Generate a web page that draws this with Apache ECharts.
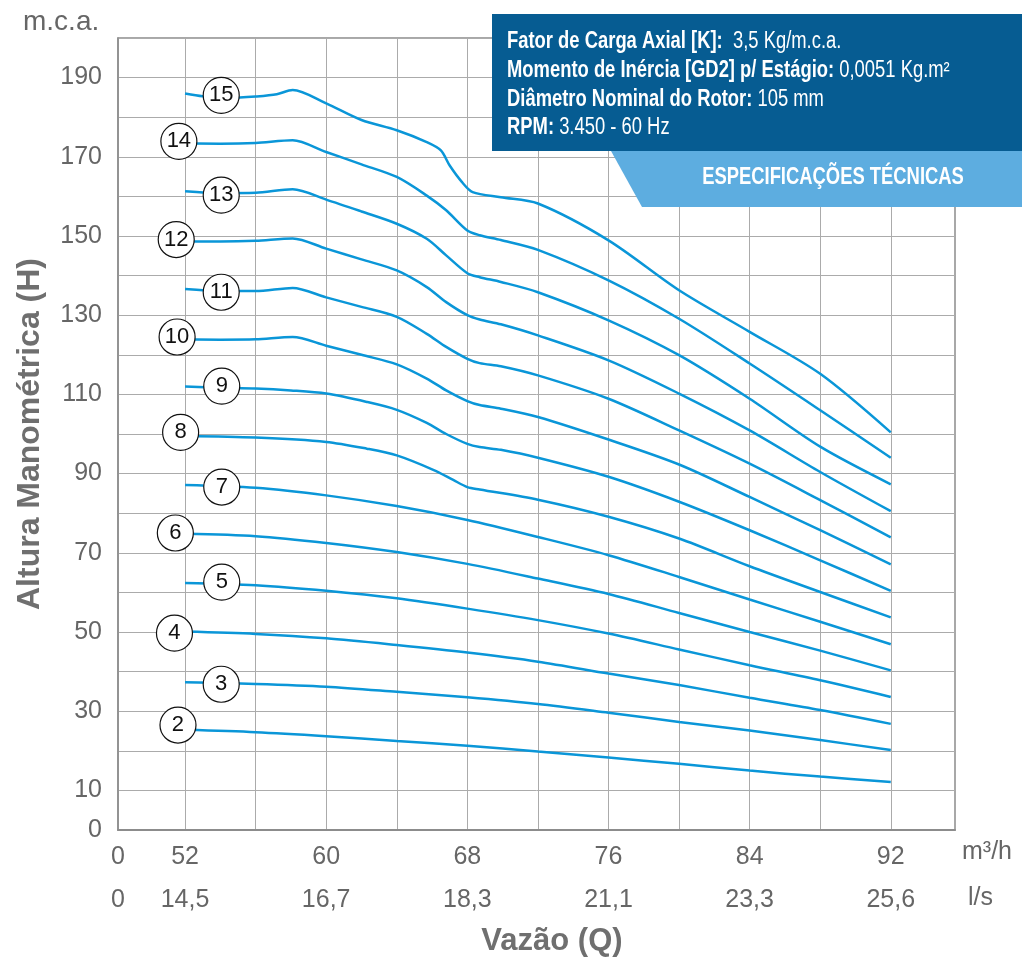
<!DOCTYPE html>
<html><head><meta charset="utf-8">
<script src="https://cdn.jsdelivr.net/npm/echarts@6/dist/echarts.min.js"></script>
<style>html,body{margin:0;padding:0;background:#fff}#c{width:1022px;height:958px}</style>
</head><body><div id="c"></div>
<script>
// ---- axis ticks / labels ----
const qTicks = [52, 56, 60, 64, 68, 72, 76, 80, 84, 88, 92];
const qLabelValues = [48.2, 52, 60, 68, 76, 84, 92];
const qLabelsM3h = ['0', '52', '60', '68', '76', '84', '92'];
const qLabelsLs = ['0', '14,5', '16,7', '18,3', '21,1', '23,3', '25,6'];

// ---- curves (Q in m3/h, H in m.c.a.) ----
const q15 = [52, 53, 54, 55.1, 56, 57.2, 58.1, 60, 62, 64, 65.7, 66.5, 67.0, 67.7, 68.3, 69.9, 72, 76, 80, 84, 88, 92];
const h15 = [186.0, 185.3, 185.0, 185.0, 185.2, 185.8, 186.9, 183.5, 179.3, 176.7, 173.7, 171.6, 167.8, 163.6, 161.1, 159.8, 158.2, 148.9, 136.3, 125.8, 115.2, 100.4];

const qUpper = [52, 54, 56, 58.1, 60, 62, 64, 65.7, 66.8, 68, 68.7, 69.9, 72, 76, 80, 84, 88, 92];
const h14 = [173.4, 173.3, 173.5, 174.2, 171.2, 168.1, 164.9, 160.2, 156.5, 151.4, 150.2, 149.0, 146.5, 138.8, 129.1, 117.8, 106.0, 94.0];
const h13 = [161.3, 160.8, 160.9, 161.8, 159.2, 156.2, 153.1, 149.3, 145.1, 140.6, 139.6, 138.4, 135.8, 128.7, 119.9, 108.9, 96.8, 87.3];
const h12 = [148.7, 148.6, 148.8, 149.4, 146.8, 144.1, 141.3, 137.1, 133.3, 130.0, 128.9, 127.7, 124.9, 118.6, 110.2, 100.9, 90.4, 80.5];
const h11 = [136.6, 136.1, 136.1, 136.9, 134.5, 132.1, 129.6, 125.3, 122.0, 119.0, 117.9, 117.1, 114.8, 108.9, 100.9, 92.5, 83.3, 73.9];
const h10 = [123.9, 123.8, 123.9, 124.5, 122.3, 120.0, 117.6, 114.0, 111.0, 108.3, 107.3, 106.4, 104.3, 98.6, 92.3, 84.1, 75.7, 67.1];

const q9 = [52, 54, 56, 58, 60, 62.3, 64, 65.7, 66.8, 68, 68.7, 69.9, 72, 76, 80, 84, 88, 92];
const h9 = [112.0, 111.7, 111.5, 111.0, 110.2, 108.1, 106.1, 102.8, 100.0, 97.5, 96.7, 96.0, 94.0, 89.2, 82.9, 75.7, 68.1, 60.4];

const q8 = [52, 56, 60, 62.3, 64, 66.1, 67.2, 68, 68.7, 72, 76, 80, 84, 88, 92];
const h8 = [99.5, 99.1, 98.0, 96.3, 94.6, 90.9, 88.4, 86.6, 86.0, 83.4, 79.1, 73.6, 66.6, 60.1, 53.7];

const qLower = [52, 56, 60, 64, 68, 72, 76, 80, 84, 88, 92];
const h7 = [87.1, 86.4, 84.5, 81.8, 78.3, 74.0, 69.4, 63.9, 58.2, 52.6, 46.9];
const h6 = [74.8, 74.2, 72.5, 70.2, 67.2, 63.5, 59.6, 54.8, 50.0, 45.3, 40.3];
const h5 = [62.4, 61.8, 60.4, 58.5, 55.9, 53.0, 49.6, 45.6, 41.6, 37.8, 33.6];
const h4 = [50.1, 49.5, 48.4, 46.7, 44.8, 42.5, 39.5, 36.6, 33.4, 30.3, 26.8];
const h3 = [37.3, 36.9, 36.2, 34.9, 33.5, 31.8, 29.6, 27.3, 25.1, 22.7, 20.2];
const h2 = [25.3, 24.7, 23.7, 22.5, 21.3, 19.8, 18.3, 16.7, 15.0, 13.5, 12.1];

// ---- stage markers (circled numbers) ----
const labelStage = [15, 14, 13, 12, 11, 10, 9, 8, 7, 6, 5, 4, 3, 2];
const labelQ = [54.05, 51.65, 54.05, 51.5, 54.05, 51.55, 54.08, 51.75, 54.08, 51.45, 54.08, 51.4, 54.05, 51.6];
const labelH = [185.5, 173.9, 160.3, 149.1, 135.8, 124.5, 112.1, 100.4, 86.6, 75.0, 62.6, 49.7, 36.8, 26.5];

// ---- spec box texts ----
const specLines = [
  ['Fator de Carga Axial [K]:', '  3,5 Kg/m.c.a.'],
  ['Momento de Inércia [GD2] p/ Estágio:', ' 0,0051 Kg.m²'],
  ['Diâmetro Nominal do Rotor:', ' 105 mm'],
  ['RPM:', ' 3.450 - 60 Hz']
];
const specTitle = 'ESPECIFICAÇÕES TÉCNICAS';

// ---- build ----
const curves = [
  [15, q15, h15], [14, qUpper, h14], [13, qUpper, h13], [12, qUpper, h12], [11, qUpper, h11], [10, qUpper, h10],
  [9, q9, h9], [8, q8, h8], [7, qLower, h7], [6, qLower, h6], [5, qLower, h5], [4, qLower, h4], [3, qLower, h3], [2, qLower, h2]
];
const FONT = '"Liberation Sans", Arial, sans-serif';
const LINE = '#0a96d8';

const series = curves.map(([st, qs, hs]) => ({
  name: 'Estágios ' + st, type: 'line', smooth: 0.3, symbol: 'none', z: 3,
  lineStyle: { color: LINE, width: 2.5 },
  data: qs.map((q, i) => [q, hs[i]])
}));
series.push({
  type: 'scatter', z: 10, symbol: 'circle', symbolSize: 36,
  itemStyle: { color: '#fff', borderColor: '#111', borderWidth: 1.2, opacity: 1 },
  label: { show: true, position: 'inside', formatter: p => String(p.data[2]), fontSize: 22, color: '#111', fontFamily: FONT },
  data: labelStage.map((s, i) => [labelQ[i], labelH[i], s])
});

const specGraphics = specLines.map((ln, i) => ({
  type: 'text', z: 61, x: 507, y: 42 + i * 28.6, scaleX: 0.8,
  style: {
    x: 0, y: 0, text: '{b|' + ln[0] + '}{r|' + ln[1] + '}', textVerticalAlign: 'middle',
    rich: {
      b: { fontWeight: 'bold', fontSize: 23, fontFamily: FONT, fill: '#fff' },
      r: { fontSize: 23, fontFamily: FONT, fill: '#fff' }
    }
  }
}));

const chart = echarts.init(document.getElementById('c'), null, { renderer: 'canvas' });
chart.setOption({
  animation: false,
  backgroundColor: '#fff',
  grid: { left: 118, right: 67, top: 38, bottom: 128, show: true, borderColor: '#8c8c8c', borderWidth: 1.5, containLabel: false, outerBoundsMode: 'none' },
  xAxis: [{
    type: 'value', min: 48.2, max: 95.64, position: 'bottom',
    axisLine: { show: true, onZero: false, lineStyle: { color: '#8c8c8c', width: 2 } },
    axisTick: { show: false, customValues: qTicks },
    splitLine: { show: true, lineStyle: { color: '#ababab', width: 1 } },
    axisLabel: {
      customValues: qLabelValues, margin: 15, fontSize: 25, color: '#666', fontFamily: FONT,
      formatter: v => qLabelsM3h[qLabelValues.findIndex(x => Math.abs(x - v) < 0.01)] || ''
    }
  }, {
    type: 'value', min: 48.2, max: 95.64, position: 'bottom', offset: 43,
    axisLine: { show: false }, axisTick: { show: false, customValues: qTicks }, splitLine: { show: false },
    axisLabel: {
      customValues: qLabelValues, margin: 15, fontSize: 25, color: '#666', fontFamily: FONT,
      formatter: v => qLabelsLs[qLabelValues.findIndex(x => Math.abs(x - v) < 0.01)] || ''
    }
  }],
  yAxis: {
    type: 'value', min: 0, max: 200, interval: 10,
    name: 'Altura Manométrica (H)', nameLocation: 'middle', nameGap: 72, nameRotate: 90,
    nameTextStyle: { fontSize: 32, fontWeight: 'bold', color: '#6f6f6f', fontFamily: FONT },
    axisLine: { show: true, lineStyle: { color: '#8c8c8c', width: 1.5 } },
    axisTick: { show: false },
    splitLine: { show: true, lineStyle: { color: '#ababab', width: 1 } },
    axisLabel: {
      margin: 16, fontSize: 25, color: '#666', fontFamily: FONT,
      formatter: v => (v === 0 || (v / 10) % 2 === 1) ? String(v) : ''
    }
  },
  series: series,
  graphic: [
    { type: 'text', z: 50, style: { x: 23, y: 22, text: 'm.c.a.', font: '28px ' + FONT, fill: '#666', textAlign: 'left', textVerticalAlign: 'middle' } },
    { type: 'text', z: 50, style: { x: 962, y: 852, text: 'm³/h', font: '25px ' + FONT, fill: '#666', textAlign: 'left', textVerticalAlign: 'middle' } },
    { type: 'text', z: 50, style: { x: 968, y: 898, text: 'l/s', font: '25px ' + FONT, fill: '#666', textAlign: 'left', textVerticalAlign: 'middle' } },
    { type: 'text', z: 50, style: { x: 552, y: 941, text: 'Vazão (Q)', font: 'bold 31px ' + FONT, fill: '#6f6f6f', textAlign: 'center', textVerticalAlign: 'middle' } },
    { type: 'rect', z: 60, shape: { x: 492, y: 14, width: 530, height: 137 }, style: { fill: '#065c92' } },
    { type: 'polygon', z: 60, shape: { points: [[611, 151], [1022, 151], [1022, 207], [642, 207]] }, style: { fill: '#5dade0' } },
    { type: 'text', z: 61, x: 833, y: 178, scaleX: 0.8, style: { x: 0, y: 0, text: specTitle, font: 'bold 23px ' + FONT, fill: '#fff', textAlign: 'center', textVerticalAlign: 'middle' } }
  ].concat(specGraphics)
});
</script></body></html>
